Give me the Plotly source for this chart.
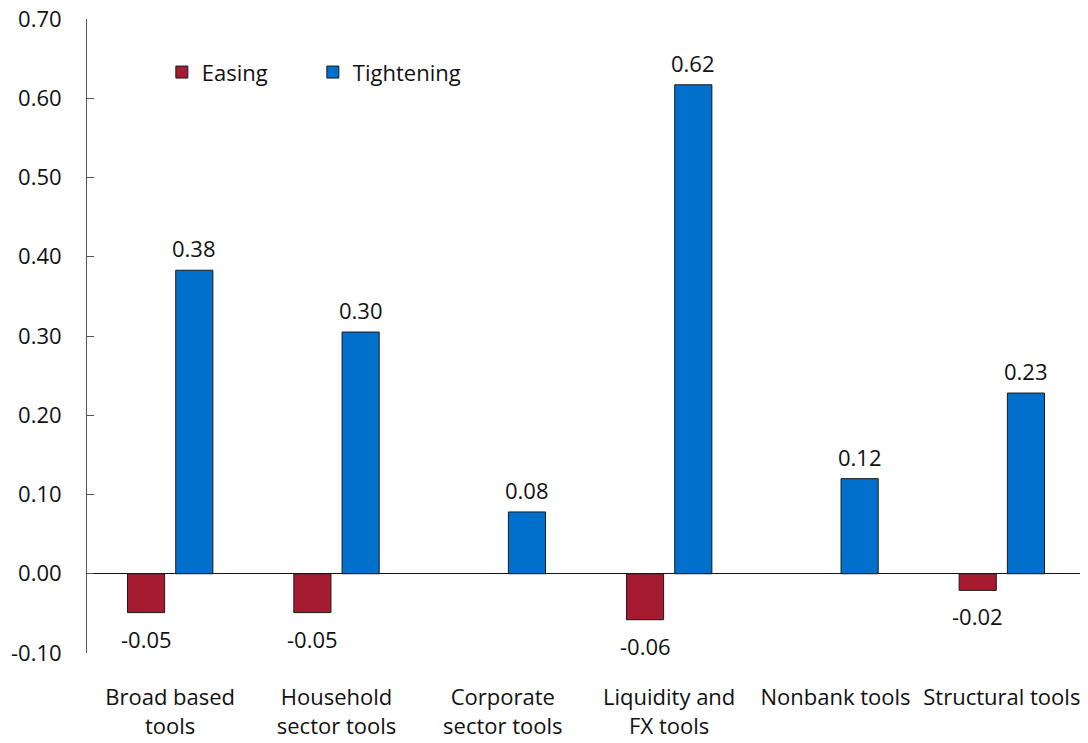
import plotly.graph_objects as go

categories = ["Broad based<br>tools", "Household<br>sector tools", "Corporate<br>sector tools",
              "Liquidity and<br>FX tools", "Nonbank tools", "Structural tools"]
easing = [-0.049, -0.049, None, -0.058, None, -0.021]
tightening = [0.383, 0.305, 0.078, 0.617, 0.120, 0.228]
y_ticks = [-0.10, 0.00, 0.10, 0.20, 0.30, 0.40, 0.50, 0.60, 0.70]
y_tick_labels = ["-0.10", "0.00", "0.10", "0.20", "0.30", "0.40", "0.50", "0.60", "0.70"]

RED = "#A61B30"
BLUE = "#0070CC"
FONT = "Open Sans"
FS = 22

fig = go.Figure()
fig.add_trace(go.Bar(name="Easing", x=categories, y=easing, marker=dict(color=RED, line=dict(color="#1a1a1a", width=1))))
fig.add_trace(go.Bar(name="Tightening", x=categories, y=tightening, marker=dict(color=BLUE, line=dict(color="#1a1a1a", width=1))))

annotations = []
for cat, v in zip(categories, easing):
    if v is None:
        continue
    annotations.append(dict(x=cat, y=v, xref="x", yref="y", text=f"{v:.2f}", showarrow=False,
                            xshift=-24, yshift=-26 if v < 0 else 22, font=dict(family=FONT, size=FS, color="#111")))
for cat, v in zip(categories, tightening):
    annotations.append(dict(x=cat, y=v, xref="x", yref="y", text=f"{v:.2f}", showarrow=False,
                            xshift=24, yshift=22 if v >= 0 else -26, font=dict(family=FONT, size=FS, color="#111")))

fig.update_layout(
    width=1080, height=735,
    margin=dict(l=79, r=3, t=11, b=90),
    paper_bgcolor="white", plot_bgcolor="white",
    font=dict(family=FONT, size=FS, color="#111"),
    barmode="group", bargap=0.42, bargroupgap=0.23,
    showlegend=True,
    legend=dict(orientation="h", x=0.075, y=0.916, xanchor="left", yanchor="middle",
                bgcolor="rgba(0,0,0,0)", font=dict(family=FONT, size=FS),
                entrywidth=106, entrywidthmode="pixels"),
    annotations=annotations,
)
fig.update_xaxes(showline=False, showgrid=False, zeroline=False, automargin=False,
                 ticks="outside", ticklen=25, tickcolor="rgba(0,0,0,0)",
                 tickfont=dict(family=FONT, size=FS))
fig.update_yaxes(range=[-0.10, 0.70], tickvals=y_ticks, ticktext=y_tick_labels, automargin=False,
                 showline=True, linecolor="#555", linewidth=1,
                 ticks="inside", ticklen=7, tickcolor="#555",
                 showgrid=False, zeroline=True, zerolinecolor="#111", zerolinewidth=1,
                 ticklabelstandoff=20, ticklabeloverflow="allow",
                 tickfont=dict(family=FONT, size=FS))

fig.write_html("out.html")
